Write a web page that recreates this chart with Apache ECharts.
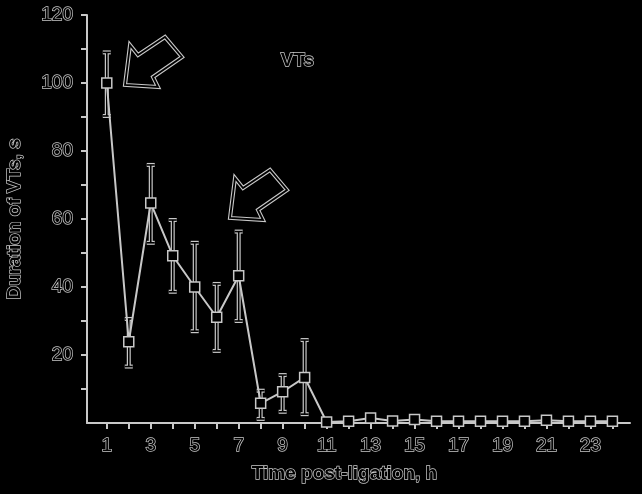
<!DOCTYPE html>
<html><head><meta charset="utf-8">
<script src="https://cdn.jsdelivr.net/npm/echarts@6/dist/echarts.min.js"></script>
<style>html,body{margin:0;padding:0;background:#000;}#c{width:642px;height:494px;}</style>
</head><body><div id="c"></div>
<script>
var hours = [1,2,3,4,5,6,7,8,9,10,11,12,13,14,15,16,17,18,19,20,21,22,23,24];
var meanDur = [100,23.9,64.7,49.2,40,31.1,43.3,5.8,9.2,13.4,0.3,0.5,1.5,0.6,1.0,0.5,0.5,0.5,0.5,0.5,0.8,0.5,0.5,0.5];
var errHigh = [109,30.6,75.9,59.7,53,40.9,56.3,9.5,14.1,24.4,0.3,0.5,1.5,0.6,1.0,0.5,0.5,0.5,0.5,0.5,0.8,0.5,0.5,0.5];
var errLow  = [90.3,16.6,53,38.6,27,21.2,30,1.2,3.3,2.6,0.3,0.5,1.5,0.6,1.0,0.5,0.5,0.5,0.5,0.5,0.8,0.5,0.5,0.5];
var xTickLabels = [1,3,5,7,9,11,13,15,17,19,21,23];
var yTickLabels = [20,40,60,80,100,120];
var yTicks = [10,20,30,40,50,60,70,80,90,100,110,120];

var gray = '#c8c8c8';
var fontFam = 'Liberation Sans, Arial, sans-serif';
var outlineText = {color:'#000', textBorderColor: gray, textBorderWidth: 1.4, fontFamily:fontFam, fontWeight:'bold'};

function arrow(ox, oy){
  var pts = [[130,45],[138,55],[165,37],[182,57],[153,77],[158,87],[125,85]];
  return pts.map(function(p){return [p[0]+ox, p[1]+oy];});
}
function arrowGraphic(ox, oy){
  return [
    {type:'polygon', shape:{points:arrow(ox,oy)}, style:{fill:null, stroke:gray, lineWidth:4, lineJoin:'miter'}, z:50},
    {type:'polygon', shape:{points:arrow(ox,oy)}, style:{fill:null, stroke:'#000', lineWidth:1.8, lineJoin:'miter'}, z:51}
  ];
}

var chart = echarts.init(document.getElementById('c'));
var errData = hours.map(function(h,i){return [h, errLow[i], errHigh[i]];}).filter(function(d){return d[2]-d[1] > 0.5;});
chart.setOption({
  backgroundColor:'#000',
  animation:false,
  grid:{left:87, right:12, top:15, bottom:71, containLabel:false, outerBoundsMode:'none'},
  xAxis:{
    type:'value', min:0.1, max:24.8,
    name:'Time post-ligation, h', nameLocation:'middle', nameGap:41,
    nameTextStyle: Object.assign({fontSize:19, padding:[0,28,0,0]}, outlineText),
    axisLine:{lineStyle:{color:gray, width:2}},
    axisTick:{show:true, length:6, customValues:hours, lineStyle:{color:gray, width:2}},
    axisLabel:{customValues:xTickLabels, margin:13, fontSize:19, color:'#000', textBorderColor:gray, textBorderWidth:1.4, fontFamily:fontFam},
    splitLine:{show:false}
  },
  yAxis:{
    type:'value', min:0, max:120, interval:20,
    name:'Duration of VTs, s', nameLocation:'middle', nameGap:63, nameRotate:90,
    nameTextStyle: Object.assign({fontSize:19}, outlineText),
    axisLine:{show:true, lineStyle:{color:gray, width:2}},
    axisTick:{show:true, length:6, customValues:yTicks, lineStyle:{color:gray, width:2}},
    axisLabel:{customValues:yTickLabels, margin:14, fontSize:19, color:'#000', textBorderColor:gray, textBorderWidth:1.4, fontFamily:fontFam},
    splitLine:{show:false}
  },
  graphic: arrowGraphic(0,0).concat(arrowGraphic(105,133)).concat([
    {type:'text', left:280, top:51, style:{text:'VTs', fill:'#000', stroke:gray, lineWidth:1.4, font:'bold 19px Liberation Sans, Arial, sans-serif'}, z:50}
  ]),
  series:[
    {
      type:'custom', z:2,
      data: errData,
      renderItem:function(params, api){
        var x = api.value(0);
        var lo = api.coord([x, api.value(1)]);
        var hi = api.coord([x, api.value(2)]);
        var cw = 4;
        var st1 = {stroke:gray, lineWidth:4, fill:null};
        var st2 = {stroke:'#000', lineWidth:1.6, fill:null};
        var shapes = [];
        [st1, st2].forEach(function(st){
          shapes.push({type:'line', shape:{x1:lo[0], y1:lo[1], x2:hi[0], y2:hi[1]}, style:st});
          shapes.push({type:'line', shape:{x1:lo[0]-cw, y1:lo[1], x2:lo[0]+cw, y2:lo[1]}, style:st});
          shapes.push({type:'line', shape:{x1:hi[0]-cw, y1:hi[1], x2:hi[0]+cw, y2:hi[1]}, style:st});
        });
        return {type:'group', children:shapes};
      }
    },
    {
      type:'line', z:3,
      data: hours.map(function(h,i){return [h, meanDur[i]];}),
      symbol:'rect', symbolSize:10,
      itemStyle:{color:'#000', borderColor:gray, borderWidth:1.5},
      lineStyle:{color:gray, width:2}
    }
  ]
});
</script></body></html>
